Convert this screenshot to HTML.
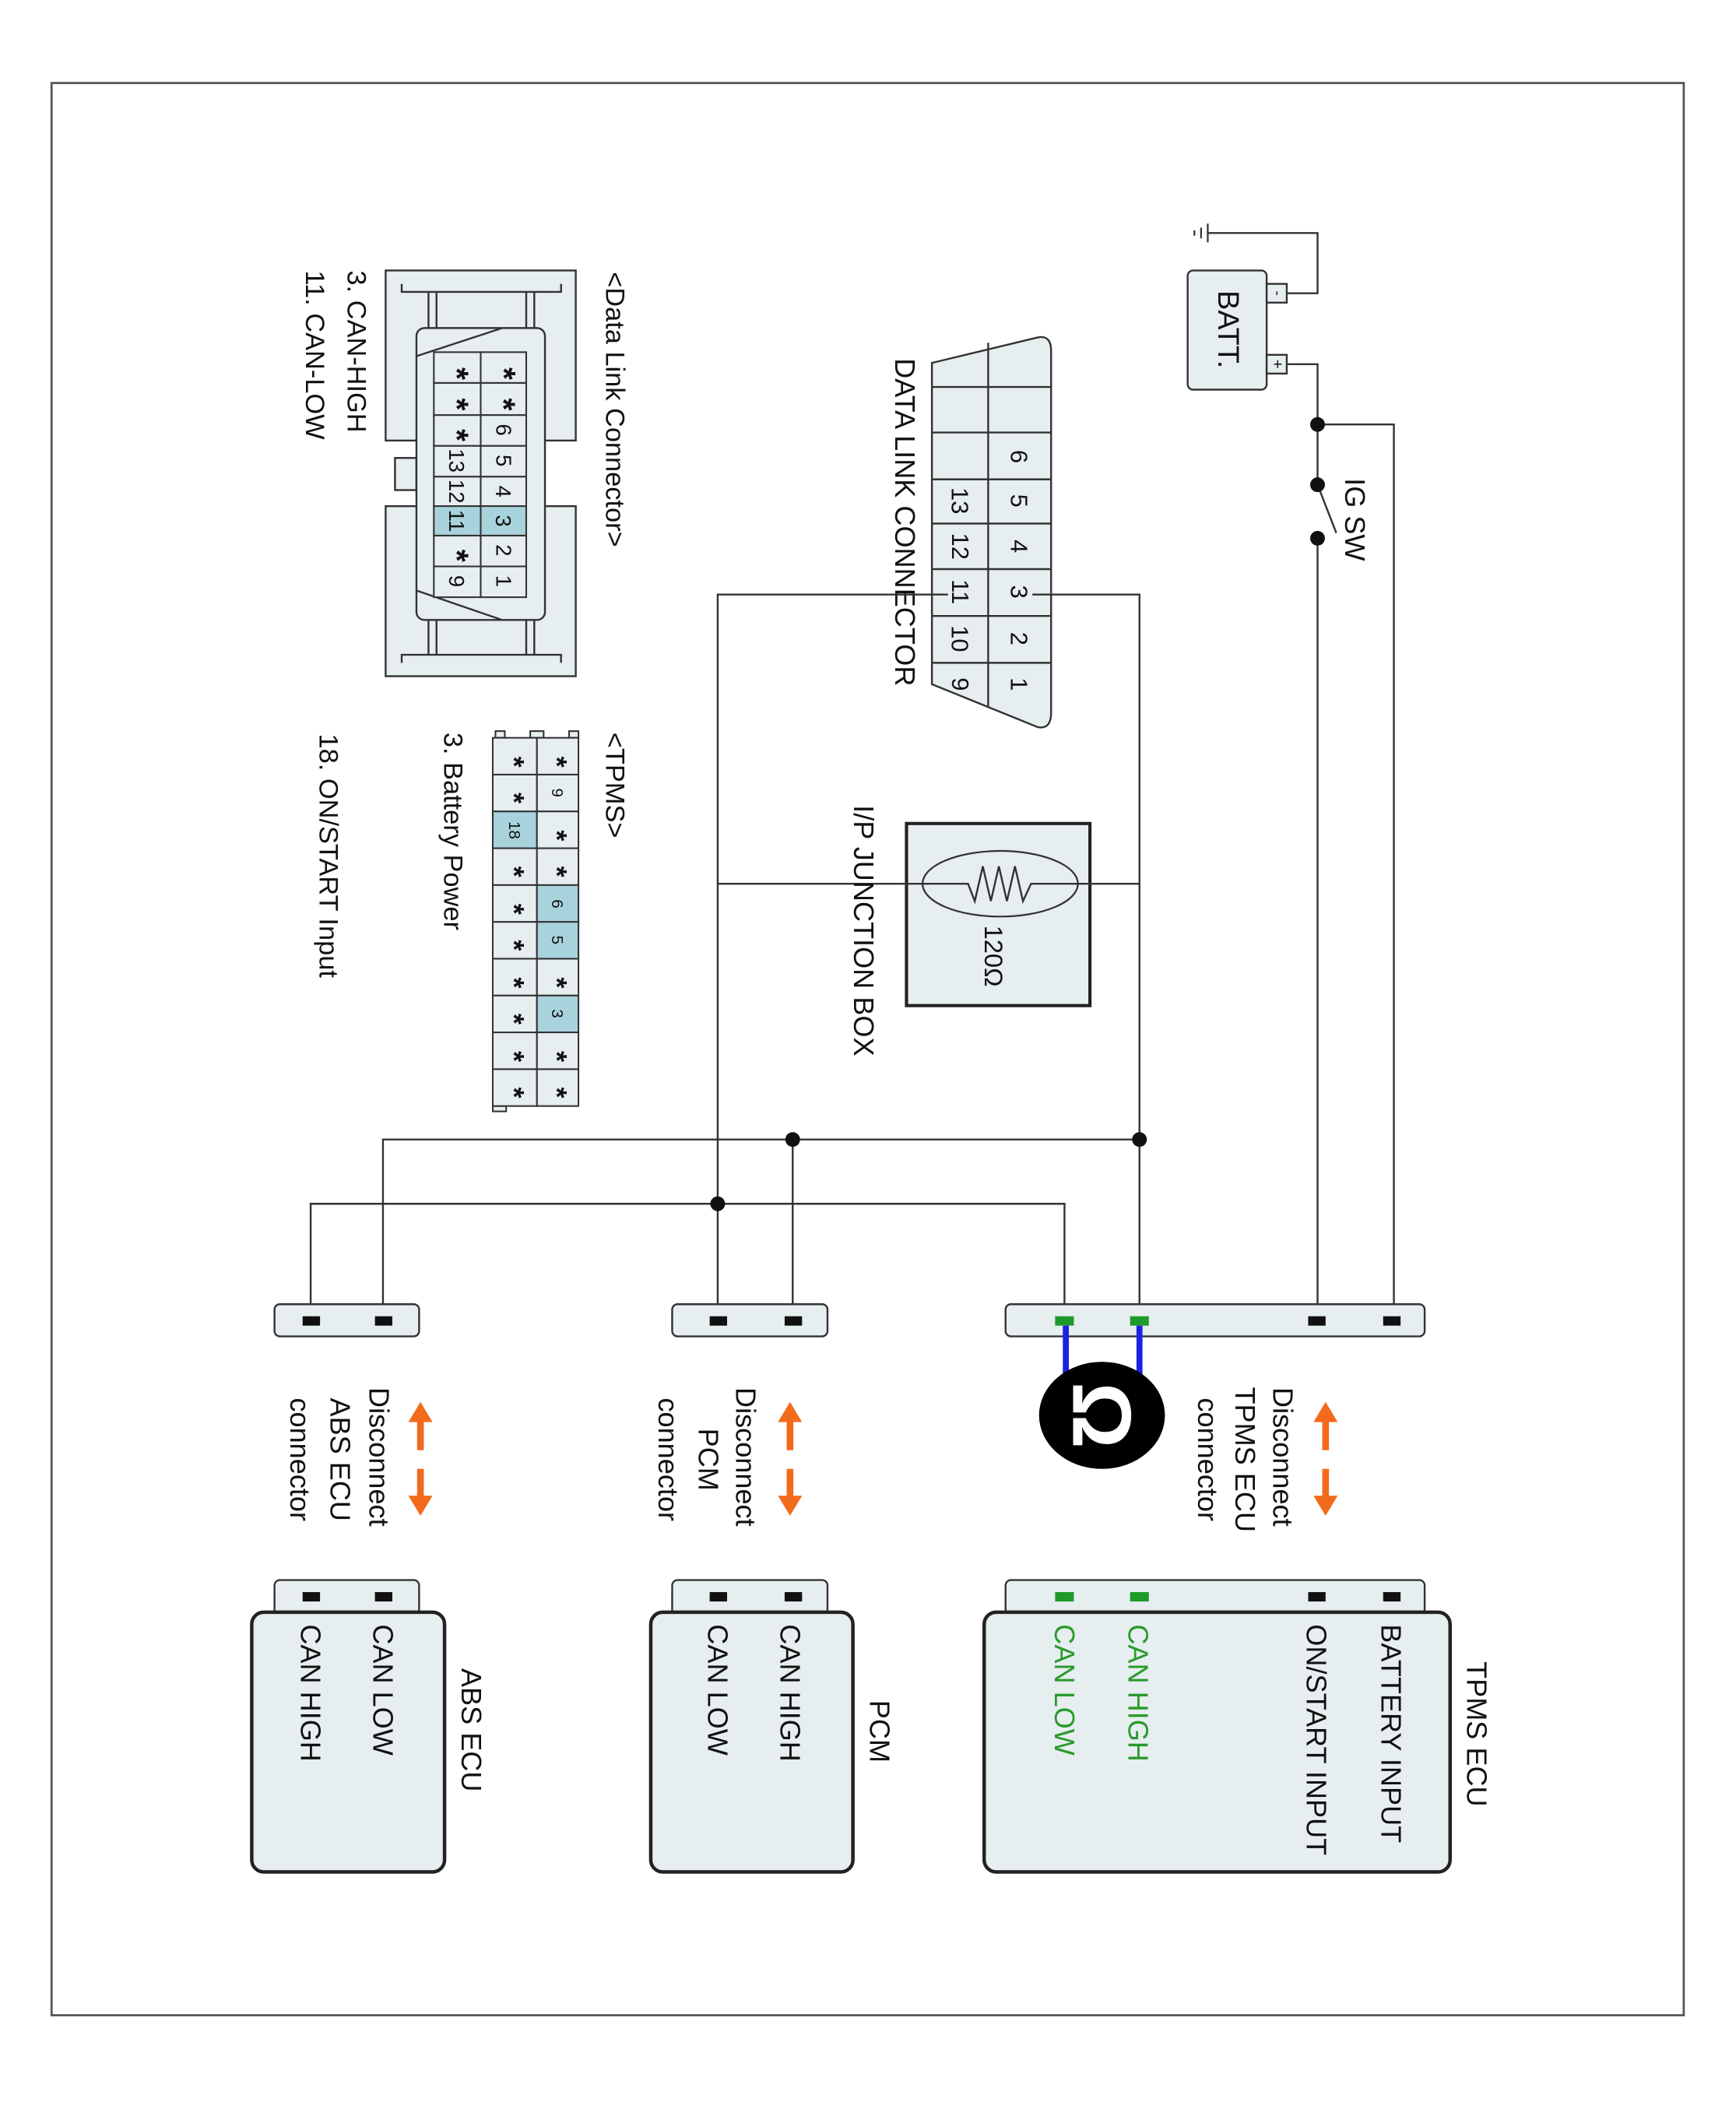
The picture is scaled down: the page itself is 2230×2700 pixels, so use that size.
<!DOCTYPE html>
<html><head><meta charset="utf-8"><style>
html,body{margin:0;padding:0;background:#fff;}
svg{display:block;}
text{font-family:"Liberation Sans",sans-serif;fill:#111;}
.ast{font-size:24px;font-weight:bold;}
.ast2{font-size:21px;font-weight:bold;}
</style></head><body>
<svg width="2230" height="2700" viewBox="0 0 1296.5 1569.8" xmlns="http://www.w3.org/2000/svg">
<defs>
<style>
.w{stroke:#333;stroke-width:1.4;fill:none}
.bx{fill:#e6eef0;stroke:#333;stroke-width:1.4}
.cell{fill:#e6eef0;stroke:#333;stroke-width:1.2}
.hl{fill:#a9d3dc;stroke:#333;stroke-width:1.2}
</style>
</defs>
<rect x="38.5" y="62" width="1219" height="1443" fill="none" stroke="#555" stroke-width="1.6"/>

<g stroke="#333" stroke-width="1.3">
<line x1="902" y1="167" x2="902" y2="181"/><line x1="897" y1="170" x2="897" y2="178"/><line x1="892" y1="172" x2="892" y2="176"/>
</g>
<polyline class="w" points="902,174 984,174 984,219 961,219"/>
<rect x="887" y="202" width="59" height="89" rx="4" class="bx"/>
<rect x="946" y="212" width="15" height="14" class="bx"/>
<rect x="946" y="265" width="15" height="14" class="bx"/>
<text x="954" y="219" font-size="11" text-anchor="middle" dominant-baseline="central" transform="rotate(90 954 219)">-</text>
<text x="954" y="272" font-size="12" text-anchor="middle" dominant-baseline="central" transform="rotate(90 954 272)">+</text>
<text x="917" y="246" font-size="22" text-anchor="middle" dominant-baseline="central" transform="rotate(90 917 246)">BATT.</text>
<polyline class="w" points="961,272 984,272 984,362"/>
<polyline class="w" points="984,317 1041,317 1041,986"/>
<line class="w" x1="984" y1="362" x2="998" y2="398"/>
<line class="w" x1="984" y1="402" x2="984" y2="986"/>
<circle cx="984" cy="317" r="5.5" fill="#111"/>
<circle cx="984" cy="362" r="5.5" fill="#111"/>
<circle cx="984" cy="402" r="5.5" fill="#111"/>
<text x="1012" y="388" font-size="21" text-anchor="middle" dominant-baseline="central" transform="rotate(90 1012 388)">IG SW</text>

<path d="M696,271 L775,252 Q785,250 785,262 L785,532 Q785,545 775,543 L696,511 Z" class="bx"/>
<line class="w" x1="738" y1="256" x2="738" y2="528"/>
<g class="w">
<line x1="696" y1="289" x2="785" y2="289"/><line x1="696" y1="323" x2="785" y2="323"/>
<line x1="696" y1="358" x2="785" y2="358"/><line x1="696" y1="391" x2="785" y2="391"/>
<line x1="696" y1="425" x2="785" y2="425"/><line x1="696" y1="460" x2="785" y2="460"/>
<line x1="696" y1="495" x2="785" y2="495"/>
</g>
<g font-size="18" text-anchor="middle">
<text x="761" y="341" dominant-baseline="central" transform="rotate(90 761 341)">6</text>
<text x="761" y="374" dominant-baseline="central" transform="rotate(90 761 374)">5</text>
<text x="761" y="408" dominant-baseline="central" transform="rotate(90 761 408)">4</text>
<text x="761" y="442" dominant-baseline="central" transform="rotate(90 761 442)">3</text>
<text x="761" y="477" dominant-baseline="central" transform="rotate(90 761 477)">2</text>
<text x="761" y="511" dominant-baseline="central" transform="rotate(90 761 511)">1</text>
<text x="717" y="374" dominant-baseline="central" transform="rotate(90 717 374)">13</text>
<text x="717" y="408" dominant-baseline="central" transform="rotate(90 717 408)">12</text>
<text x="717" y="442" dominant-baseline="central" transform="rotate(90 717 442)">11</text>
<text x="717" y="477" dominant-baseline="central" transform="rotate(90 717 477)">10</text>
<text x="717" y="511" dominant-baseline="central" transform="rotate(90 717 511)">9</text>
</g>
<text x="676" y="390" font-size="21" text-anchor="middle" dominant-baseline="central" transform="rotate(90 676 390)">DATA LINK CONNECTOR</text>
<polyline class="w" points="771,444 851,444 851,986"/>
<polyline class="w" points="708,444 536,444 536,986"/>

<rect x="677" y="615" width="137" height="136" fill="#e6eef0" stroke="#222" stroke-width="2.4"/>
<line class="w" x1="536" y1="660" x2="851" y2="660"/>
<ellipse cx="747" cy="660" rx="58" ry="24.5" fill="#e6eef0" stroke="#333" stroke-width="1.3"/>
<polyline class="w" points="689,660 723,660 728,673 734,647 740,673 746,647 752,673 758,647 764,673 770,660 805,660"/>
<text x="742" y="714" font-size="19" text-anchor="middle" dominant-baseline="central" transform="rotate(90 742 714)">120Ω</text>
<text x="645" y="695" font-size="21" text-anchor="middle" dominant-baseline="central" transform="rotate(90 645 695)">I/P JUNCTION BOX</text>

<polyline class="w" points="286,986 286,851 851,851"/>
<line class="w" x1="592" y1="851" x2="592" y2="986"/>
<polyline class="w" points="232,986 232,899 795,899 795,986"/>
<circle cx="851" cy="851" r="5.5" fill="#111"/>
<circle cx="592" cy="851" r="5.5" fill="#111"/>
<circle cx="536" cy="899" r="5.5" fill="#111"/>

<rect x="751" y="974" width="313" height="24" rx="4" class="bx"/>
<rect x="502" y="974" width="116" height="24" rx="4" class="bx"/>
<rect x="205" y="974" width="108" height="24" rx="4" class="bx"/>
<g fill="#111">
<rect x="1033" y="983" width="13" height="7"/><rect x="977" y="983" width="13" height="7"/>
<rect x="530" y="983" width="13" height="7"/><rect x="586" y="983" width="13" height="7"/>
<rect x="226" y="983" width="13" height="7"/><rect x="280" y="983" width="13" height="7"/>
</g>
<g fill="#1e9a2a">
<rect x="788" y="983" width="14" height="7"/><rect x="844" y="983" width="14" height="7"/>
</g>
<g stroke="#1a22e0" stroke-width="4.5">
<line x1="796" y1="990" x2="796" y2="1030"/><line x1="851" y1="990" x2="851" y2="1030"/>
</g>
<ellipse cx="823" cy="1057" rx="47" ry="40" fill="#000"/>
<text x="823" y="1057" font-size="62" font-weight="bold" text-anchor="middle" dominant-baseline="central" transform="rotate(90 823 1057)" style="fill:#fff">Ω</text>

<g fill="#f26a1b" stroke="#f26a1b">
<g transform="translate(990,0)"><line x1="0" y1="1058" x2="0" y2="1083" stroke-width="5"/><polygon points="-9,1062 0,1047 9,1062" stroke="none"/><line x1="0" y1="1097" x2="0" y2="1120" stroke-width="5"/><polygon points="-9,1117 0,1132 9,1117" stroke="none"/></g>
<g transform="translate(590,0)"><line x1="0" y1="1058" x2="0" y2="1083" stroke-width="5"/><polygon points="-9,1062 0,1047 9,1062" stroke="none"/><line x1="0" y1="1097" x2="0" y2="1120" stroke-width="5"/><polygon points="-9,1117 0,1132 9,1117" stroke="none"/></g>
<g transform="translate(314,0)"><line x1="0" y1="1058" x2="0" y2="1083" stroke-width="5"/><polygon points="-9,1062 0,1047 9,1062" stroke="none"/><line x1="0" y1="1097" x2="0" y2="1120" stroke-width="5"/><polygon points="-9,1117 0,1132 9,1117" stroke="none"/></g>
</g>
<g font-size="21" dominant-baseline="central" text-anchor="middle">
<text x="958" y="1088" transform="rotate(90 958 1088)">Disconnect</text>
<text x="930" y="1090" transform="rotate(90 930 1090)">TPMS ECU</text>
<text x="902" y="1090" transform="rotate(90 902 1090)">connector</text>
<text x="557" y="1088" transform="rotate(90 557 1088)">Disconnect</text>
<text x="529" y="1090" transform="rotate(90 529 1090)">PCM</text>
<text x="499" y="1090" transform="rotate(90 499 1090)">connector</text>
<text x="283" y="1088" transform="rotate(90 283 1088)">Disconnect</text>
<text x="254" y="1090" transform="rotate(90 254 1090)">ABS ECU</text>
<text x="224" y="1090" transform="rotate(90 224 1090)">connector</text>
</g>

<rect x="751" y="1180" width="313" height="26" rx="4" class="bx"/>
<rect x="502" y="1180" width="116" height="26" rx="4" class="bx"/>
<rect x="205" y="1180" width="108" height="26" rx="4" class="bx"/>
<g fill="#111">
<rect x="1033" y="1189" width="13" height="7"/><rect x="977" y="1189" width="13" height="7"/>
<rect x="530" y="1189" width="13" height="7"/><rect x="586" y="1189" width="13" height="7"/>
<rect x="226" y="1189" width="13" height="7"/><rect x="280" y="1189" width="13" height="7"/>
</g>
<g fill="#1e9a2a"><rect x="788" y="1189" width="14" height="7"/><rect x="844" y="1189" width="14" height="7"/></g>
<rect x="735" y="1204" width="348" height="194" rx="9" fill="#e6eef0" stroke="#222" stroke-width="2.6"/>
<rect x="486" y="1204" width="151" height="194" rx="9" fill="#e6eef0" stroke="#222" stroke-width="2.6"/>
<rect x="188" y="1204" width="144" height="194" rx="9" fill="#e6eef0" stroke="#222" stroke-width="2.6"/>
<g font-size="21" dominant-baseline="central">
<text x="1103" y="1295" text-anchor="middle" transform="rotate(90 1103 1295)">TPMS ECU</text>
<text x="1039" y="1213" transform="rotate(90 1039 1213)">BATTERY INPUT</text>
<text x="983" y="1213" transform="rotate(90 983 1213)">ON/START INPUT</text>
<text x="850" y="1213" transform="rotate(90 850 1213)" style="fill:#2a9a2a">CAN HIGH</text>
<text x="795" y="1213" transform="rotate(90 795 1213)" style="fill:#2a9a2a">CAN LOW</text>
<text x="657" y="1293" text-anchor="middle" transform="rotate(90 657 1293)">PCM</text>
<text x="590" y="1213" transform="rotate(90 590 1213)">CAN HIGH</text>
<text x="536" y="1213" transform="rotate(90 536 1213)">CAN LOW</text>
<text x="352" y="1292" text-anchor="middle" transform="rotate(90 352 1292)">ABS ECU</text>
<text x="286" y="1213" transform="rotate(90 286 1213)">CAN LOW</text>
<text x="232" y="1213" transform="rotate(90 232 1213)">CAN HIGH</text>
</g>

<rect x="288" y="202" width="142" height="127" class="bx"/>
<rect x="288" y="378" width="142" height="127" class="bx"/>
<rect x="295" y="342" width="16" height="24" class="bx"/>
<g class="w">
<polyline points="300,212 300,218 419,218 419,212"/>
<line x1="320" y1="218" x2="320" y2="245"/><line x1="326" y1="218" x2="326" y2="245"/>
<line x1="393" y1="218" x2="393" y2="245"/><line x1="399" y1="218" x2="399" y2="245"/>
<polyline points="300,495 300,489 419,489 419,495"/>
<line x1="320" y1="463" x2="320" y2="489"/><line x1="326" y1="463" x2="326" y2="489"/>
<line x1="393" y1="463" x2="393" y2="489"/><line x1="399" y1="463" x2="399" y2="489"/>
</g>
<rect x="311" y="245" width="96" height="218" rx="6" class="bx"/>
<line class="w" x1="311" y1="266" x2="375" y2="245"/>
<line class="w" x1="311" y1="441" x2="375" y2="463"/>
<g>
<rect x="324" y="263" width="35" height="23" class="cell"/><rect x="359" y="263" width="34" height="23" class="cell"/>
<rect x="324" y="286" width="35" height="24" class="cell"/><rect x="359" y="286" width="34" height="24" class="cell"/>
<rect x="324" y="310" width="35" height="23" class="cell"/><rect x="359" y="310" width="34" height="23" class="cell"/>
<rect x="324" y="333" width="35" height="23" class="cell"/><rect x="359" y="333" width="34" height="23" class="cell"/>
<rect x="324" y="356" width="35" height="22" class="cell"/><rect x="359" y="356" width="34" height="22" class="cell"/>
<rect x="324" y="378" width="35" height="22" class="hl"/><rect x="359" y="378" width="34" height="22" class="hl"/>
<rect x="324" y="400" width="35" height="23" class="cell"/><rect x="359" y="400" width="34" height="23" class="cell"/>
<rect x="324" y="423" width="35" height="23" class="cell"/><rect x="359" y="423" width="34" height="23" class="cell"/>
</g>
<g font-size="16" text-anchor="middle" dominant-baseline="central">
<text class="ast" x="376" y="279" transform="rotate(90 376 279)">*</text>
<text class="ast" x="376" y="302" transform="rotate(90 376 302)">*</text>
<text x="376" y="321" transform="rotate(90 376 321)">6</text>
<text x="376" y="344" transform="rotate(90 376 344)">5</text>
<text x="376" y="367" transform="rotate(90 376 367)">4</text>
<text x="376" y="389" transform="rotate(90 376 389)">3</text>
<text x="376" y="411" transform="rotate(90 376 411)">2</text>
<text x="376" y="434" transform="rotate(90 376 434)">1</text>
<text class="ast" x="341" y="279" transform="rotate(90 341 279)">*</text>
<text class="ast" x="341" y="302" transform="rotate(90 341 302)">*</text>
<text class="ast" x="341" y="325" transform="rotate(90 341 325)">*</text>
<text x="341" y="344" transform="rotate(90 341 344)">13</text>
<text x="341" y="367" transform="rotate(90 341 367)">12</text>
<text x="341" y="389" transform="rotate(90 341 389)">11</text>
<text class="ast" x="341" y="415" transform="rotate(90 341 415)">*</text>
<text x="341" y="434" transform="rotate(90 341 434)">9</text>
</g>
<g font-size="20" dominant-baseline="central">
<text x="459" y="203" transform="rotate(90 459 203)">&lt;Data Link Connector&gt;</text>
<text x="266" y="202" transform="rotate(90 266 202)">3. CAN-HIGH</text>
<text x="235" y="202" transform="rotate(90 235 202)">11. CAN-LOW</text>
</g>

<g class="cell">
<rect x="370" y="546" width="7" height="5"/><rect x="396" y="546" width="10" height="5"/><rect x="425" y="546" width="7" height="5"/>
<rect x="368" y="826" width="10" height="4"/>
</g>
<g>
<rect x="368" y="551" width="33" height="27.5" class="cell"/><rect x="401" y="551" width="31" height="27.5" class="cell"/>
<rect x="368" y="578.5" width="33" height="27.5" class="cell"/><rect x="401" y="578.5" width="31" height="27.5" class="cell"/>
<rect x="368" y="606" width="33" height="27.5" class="hl"/><rect x="401" y="606" width="31" height="27.5" class="cell"/>
<rect x="368" y="633.5" width="33" height="27.5" class="cell"/><rect x="401" y="633.5" width="31" height="27.5" class="cell"/>
<rect x="368" y="661" width="33" height="27.5" class="cell"/><rect x="401" y="661" width="31" height="27.5" class="hl"/>
<rect x="368" y="688.5" width="33" height="27.5" class="cell"/><rect x="401" y="688.5" width="31" height="27.5" class="hl"/>
<rect x="368" y="716" width="33" height="27.5" class="cell"/><rect x="401" y="716" width="31" height="27.5" class="cell"/>
<rect x="368" y="743.5" width="33" height="27.5" class="cell"/><rect x="401" y="743.5" width="31" height="27.5" class="hl"/>
<rect x="368" y="771" width="33" height="27.5" class="cell"/><rect x="401" y="771" width="31" height="27.5" class="cell"/>
<rect x="368" y="798.5" width="33" height="27.5" class="cell"/><rect x="401" y="798.5" width="31" height="27.5" class="cell"/>
</g>
<g font-size="15" text-anchor="middle" dominant-baseline="central">
<text class="ast2" x="416" y="569" transform="rotate(90 416 569)">*</text>
<text x="416" y="592" font-size="12" transform="rotate(90 416 592)">9</text>
<text class="ast2" x="416" y="624" transform="rotate(90 416 624)">*</text>
<text class="ast2" x="416" y="651" transform="rotate(90 416 651)">*</text>
<text x="416" y="675" font-size="12" transform="rotate(90 416 675)">6</text>
<text x="416" y="702" font-size="12" transform="rotate(90 416 702)">5</text>
<text class="ast2" x="416" y="734" transform="rotate(90 416 734)">*</text>
<text x="416" y="757" font-size="12" transform="rotate(90 416 757)">3</text>
<text class="ast2" x="416" y="789" transform="rotate(90 416 789)">*</text>
<text class="ast2" x="416" y="816" transform="rotate(90 416 816)">*</text>
<text class="ast2" x="384" y="569" transform="rotate(90 384 569)">*</text>
<text class="ast2" x="384" y="596" transform="rotate(90 384 596)">*</text>
<text x="384" y="620" font-size="12" transform="rotate(90 384 620)">18</text>
<text class="ast2" x="384" y="651" transform="rotate(90 384 651)">*</text>
<text class="ast2" x="384" y="679" transform="rotate(90 384 679)">*</text>
<text class="ast2" x="384" y="706" transform="rotate(90 384 706)">*</text>
<text class="ast2" x="384" y="734" transform="rotate(90 384 734)">*</text>
<text class="ast2" x="384" y="761" transform="rotate(90 384 761)">*</text>
<text class="ast2" x="384" y="789" transform="rotate(90 384 789)">*</text>
<text class="ast2" x="384" y="816" transform="rotate(90 384 816)">*</text>
</g>
<g font-size="20" dominant-baseline="central">
<text x="459" y="547" transform="rotate(90 459 547)">&lt;TPMS&gt;</text>
<text x="338" y="547" transform="rotate(90 338 547)">3. Battery Power</text>
<text x="245" y="548" transform="rotate(90 245 548)">18. ON/START Input</text>
</g>
</svg>
</body></html>
